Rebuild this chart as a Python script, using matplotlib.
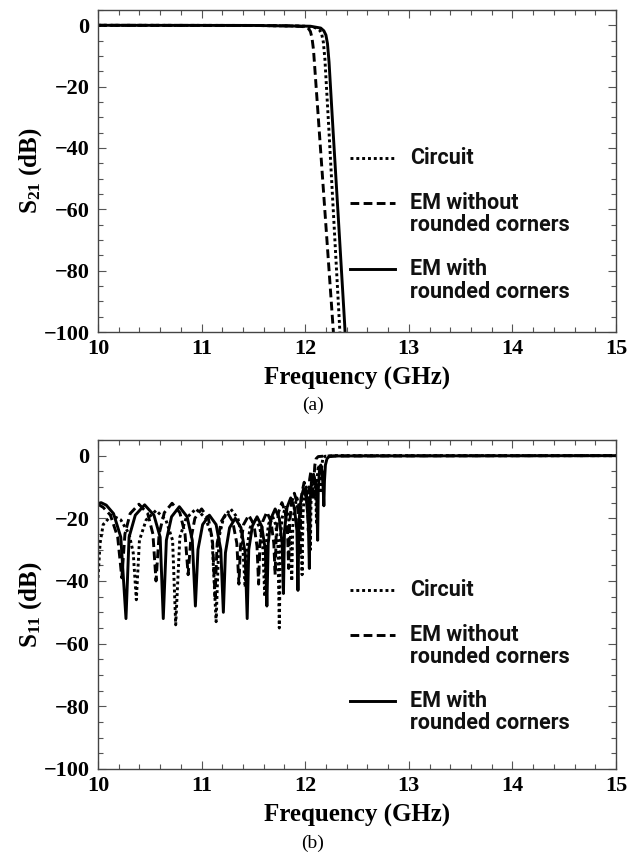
import matplotlib
matplotlib.use("Agg")
import matplotlib.pyplot as plt
from matplotlib.ticker import MultipleLocator
from matplotlib.lines import Line2D

# ---------------- data ----------------
# (a) S21
f21_circuit = [10.0, 11.5, 12.0, 12.1, 12.14, 12.16, 12.175, 12.19, 12.23, 12.28, 12.33, 12.35]
s21_circuit = [0, -0.05, -0.3, -0.8, -1.6, -3.0, -5.5, -11, -35, -66, -97, -110]

f21_em_sharp = [10.0, 11.5, 11.9, 12.0, 12.03, 12.05, 12.065, 12.08, 12.12, 12.17, 12.22, 12.27, 12.29]
s21_em_sharp = [0, -0.05, -0.2, -0.5, -1.0, -2.0, -4.0, -8, -27, -51, -75, -99, -110]

f21_em_round = [10.0, 11.5, 12.05, 12.15, 12.18, 12.2, 12.215, 12.23, 12.27, 12.32, 12.38, 12.40]
s21_em_round = [0, -0.05, -0.3, -0.9, -1.8, -3.2, -6, -12, -35, -63, -97, -110]

# (b) S11
f11_circuit = [10.00, 10.02, 10.05, 10.13, 10.22, 10.30, 10.34, 10.37,
               10.40, 10.465, 10.56, 10.655, 10.72, 10.75,
               10.79, 10.85, 10.945, 11.04, 11.10, 11.14,
               11.168, 11.21, 11.28, 11.35, 11.392, 11.42,
               11.44, 11.468, 11.515, 11.562, 11.59, 11.61,
               11.624, 11.645, 11.68, 11.715, 11.736, 11.75,
               11.762, 11.78, 11.81, 11.84, 11.858, 11.87,
               11.88, 11.895, 11.92, 11.945, 11.96, 11.97,
               11.978, 11.99, 12.01, 12.03, 12.042, 12.05,
               12.056, 12.065, 12.08, 12.095, 12.104, 12.11,
               12.114, 12.12, 12.13, 12.14, 12.146, 12.15,
               12.155, 12.162, 12.172, 12.19, 12.3, 15.0]
s11_circuit = [-39, -28, -22, -19, -20.5, -25, -31, -46,
               -27, -20.5, -17.5, -20.5, -27, -54,
               -26, -20, -17, -20, -26, -53,
               -26, -20, -17, -20, -26, -42,
               -29, -23, -20, -23, -29, -45,
               -28, -22, -19, -22, -28, -55,
               -25.5, -19.5, -16.5, -19.5, -25.5, -40,
               -22.5, -16.5, -13.5, -16.5, -22.5, -38,
               -19, -13, -10, -13, -19, -30,
               -15, -9, -6, -9, -15, -22,
               -10, -5, -3, -5, -8, -12,
               -6, -2.5, -0.8, -0.2, 0, 0]

f11_em_sharp = [10.00, 10.05, 10.12, 10.19, 10.23,
                10.26, 10.31, 10.395, 10.48, 10.53, 10.56,
                10.59, 10.64, 10.715, 10.79, 10.84, 10.87,
                10.895, 10.935, 11.0, 11.065, 11.105, 11.13,
                11.15, 11.19, 11.245, 11.30, 11.34, 11.36,
                11.375, 11.405, 11.455, 11.505, 11.535, 11.55,
                11.563, 11.59, 11.63, 11.67, 11.697, 11.71,
                11.72, 11.743, 11.775, 11.807, 11.83, 11.84,
                11.849, 11.868, 11.895, 11.922, 11.941, 11.95,
                11.957, 11.97, 11.99, 12.01, 12.023, 12.03,
                12.035, 12.043, 12.055, 12.067, 12.075, 12.08,
                12.085, 12.093, 12.105, 12.125, 12.2, 15.0]
s11_em_sharp = [-15.5, -16.5, -19, -26, -39,
                -25, -18.5, -15.5, -18.5, -25, -40,
                -25, -18.2, -15.2, -18.2, -25, -38,
                -27, -20, -17, -20, -27, -45,
                -28, -21, -18, -21, -28, -41,
                -29, -22, -19, -22, -29, -41,
                -28, -21, -18, -21, -28, -38,
                -25, -18, -15, -18, -25, -36,
                -22, -15, -12, -15, -22, -32,
                -17, -11.5, -8.5, -11.5, -17, -24,
                -12, -7.5, -5, -7.5, -12, -14,
                -7, -3, -1, -0.3, -0.1, 0]

f11_em_round = [10.00, 10.03, 10.08, 10.15, 10.22, 10.27,
                10.30, 10.36, 10.45, 10.54, 10.60, 10.63,
                10.66, 10.71, 10.785, 10.86, 10.91, 10.94,
                10.965, 11.01, 11.075, 11.14, 11.185, 11.21,
                11.23, 11.27, 11.325, 11.38, 11.42, 11.44,
                11.455, 11.49, 11.535, 11.58, 11.615, 11.63,
                11.643, 11.67, 11.71, 11.75, 11.777, 11.79,
                11.80, 11.825, 11.86, 11.895, 11.92, 11.93,
                11.94, 11.96, 11.985, 12.01, 12.03, 12.04,
                12.047, 12.06, 12.08, 12.10, 12.113, 12.12,
                12.126, 12.137, 12.15, 12.163, 12.174, 12.18,
                12.186, 12.195, 12.21, 12.23, 12.3, 15.0]
s11_em_round = [-15.3, -15.0, -15.8, -18.5, -26, -52,
                -26, -19, -15.7, -19, -26, -52,
                -27, -19.5, -16.3, -19.5, -27, -48,
                -30, -22, -19, -22, -30, -50,
                -31, -23, -20, -23, -31, -52,
                -30, -22.5, -19.5, -22.5, -30, -48,
                -28, -20, -17, -20, -28, -44,
                -24, -16.5, -13.5, -16.5, -24, -43,
                -21, -13.5, -10.5, -13.5, -21, -36,
                -15, -8.5, -6, -8.5, -15, -27,
                -11, -5, -3, -5, -11, -16,
                -8, -3, -1, -0.3, -0.1, 0]

legend_labels = ["Circuit", "EM without\nrounded corners", "EM with\nrounded corners"]
x_ticks = [10, 11, 12, 13, 14, 15]
y_ticks = [0, -20, -40, -60, -80, -100]

# ---------------- styling ----------------
plt.rcParams['mathtext.fontset'] = 'custom'
plt.rcParams['mathtext.rm'] = 'Liberation Serif:bold'
plt.rcParams['mathtext.bf'] = 'Liberation Serif:bold'
plt.rcParams['mathtext.it'] = 'Liberation Serif:bold:italic'

SERIF = 'Liberation Serif'
SANS = 'Roboto'
LW = 2.1
styles = [dict(color='black', lw=LW, linestyle=(0, (1, 1))),
          dict(color='black', lw=LW, linestyle=(0, (3.0, 1.5))),
          dict(color='black', lw=LW, linestyle='-')]

fig = plt.figure(figsize=(6.27, 8.59), dpi=100)
ax1 = fig.add_axes([0.1563, 0.6135, 0.8262, 0.3749])
ax2 = fig.add_axes([0.1563, 0.1048, 0.8262, 0.3830])


def style_axes(ax, ylabel):
    ax.set_xlim(10, 15)
    ax.set_ylim(-100, 5)
    ax.set_xticks(x_ticks)
    ax.set_yticks(y_ticks)
    ax.xaxis.set_minor_locator(MultipleLocator(0.2))
    ax.yaxis.set_minor_locator(MultipleLocator(5))
    ax.tick_params(which='both', direction='in', top=True, right=True,
                   color='#555555', width=0.8)
    ax.tick_params(which='major', length=6)
    ax.tick_params(which='minor', length=3.5)
    ax.tick_params(axis='x', which='major', pad=5)
    ax.tick_params(axis='y', which='major', pad=6)
    ax.set_yticklabels([str(t).replace('-', '\u2212') for t in y_ticks],
                       fontfamily=SERIF, fontweight='bold', fontsize=16)
    ax.set_xticklabels([str(t) for t in x_ticks],
                       fontfamily=SERIF, fontweight='bold', fontsize=16)
    for sp in ax.spines.values():
        sp.set_color('#444444')
        sp.set_linewidth(1.0)
    ax.set_xlabel('Frequency (GHz)', fontfamily=SERIF, fontweight='bold',
                  fontsize=18, labelpad=6)
    ax.set_ylabel(ylabel, fontfamily=SERIF, fontweight='bold', fontsize=18,
                  labelpad=0)


def manual_legend(ax, ys):
    for st, lab, (hy, lys) in zip(styles, legend_labels, ys):
        ax.add_line(Line2D([0.486, 0.573], [hy, hy], transform=ax.transAxes,
                           **st))
        for line, ly in zip(lab.split('\n'), lys):
            ax.text(0.602, ly, line, transform=ax.transAxes, ha='left',
                    va='center', fontfamily=SANS, fontweight='bold',
                    fontsize=15.5, color='#111111')


# (a)
ax1.plot(f21_circuit, s21_circuit, **styles[0])
ax1.plot(f21_em_sharp, s21_em_sharp, **styles[1])
ax1.plot(f21_em_round, s21_em_round, **styles[2])
style_axes(ax1, r'S$_{\mathbf{21}}$ (dB)')
manual_legend(ax1, [(0.540, [0.540]), (0.402, [0.402, 0.331]),
                    (0.196, [0.196, 0.125])])

# (b)
ax2.plot(f11_circuit, s11_circuit, **styles[0])
ax2.plot(f11_em_sharp, s11_em_sharp, **styles[1])
ax2.plot(f11_em_round, s11_em_round, **styles[2])
style_axes(ax2, r'S$_{\mathbf{11}}$ (dB)')
manual_legend(ax2, [(0.544, [0.544]), (0.407, [0.407, 0.339]),
                    (0.207, [0.207, 0.139])])

fig.text(0.499, 1 - 405 / 859, '(a)', ha='center', va='center',
         fontfamily=SERIF, fontsize=14)
fig.text(0.499, 1 - 843 / 859, '(b)', ha='center', va='center',
         fontfamily=SERIF, fontsize=14)

fig.savefig('out.png', dpi=100)
